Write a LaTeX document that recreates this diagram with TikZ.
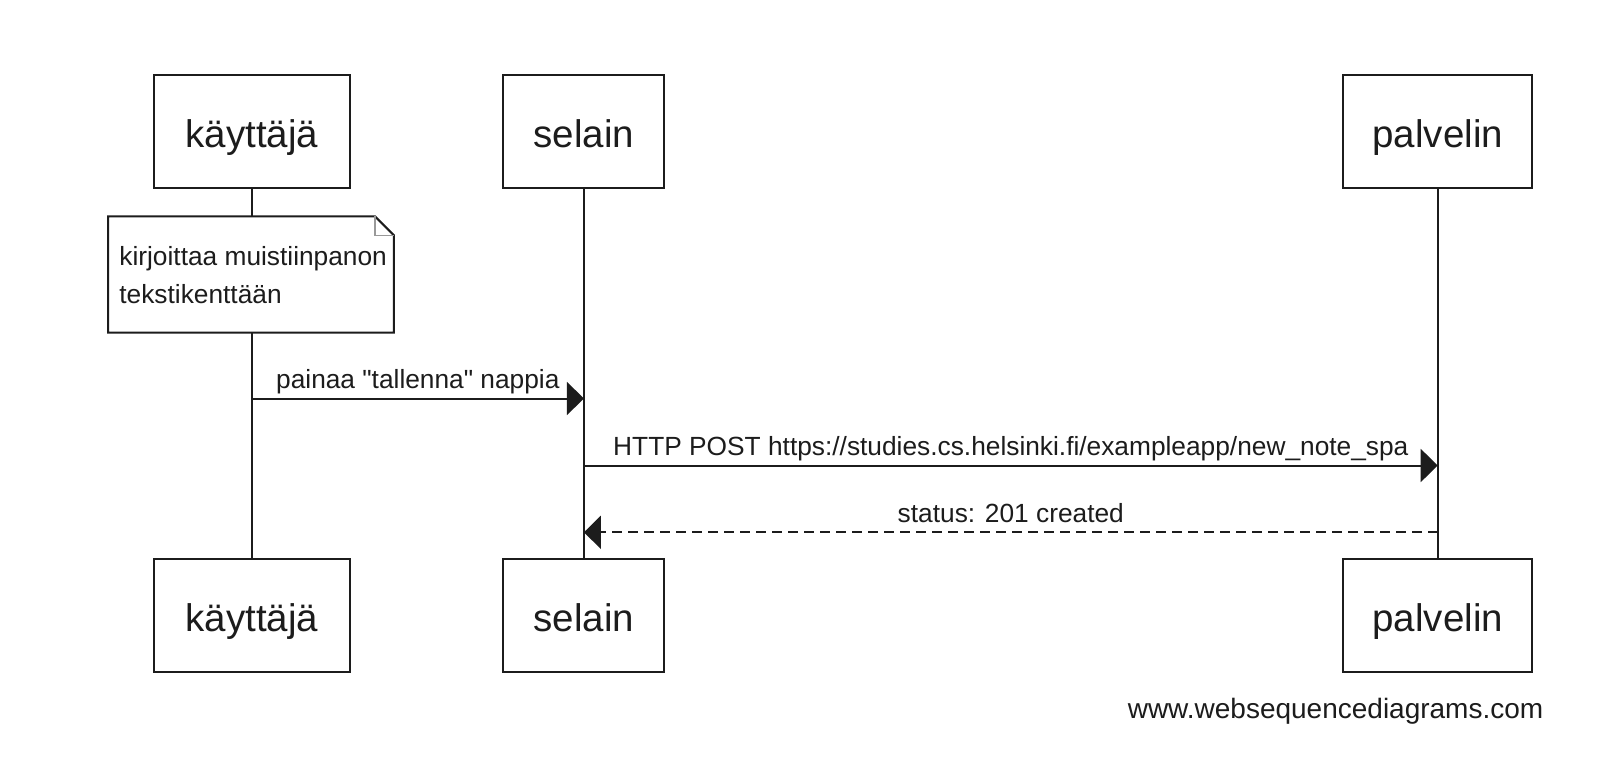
\documentclass[tikz,border=0pt]{standalone}
\usepackage{fontspec}
\setmainfont{Liberation Sans}[Ligatures=TeXOff]
\usetikzlibrary{arrows.meta,calc}
\definecolor{ink}{HTML}{1C1C1C}
\begin{document}
\begin{tikzpicture}[x=1pt,y=-1pt,
  lifeline/.style={draw=ink, line width=2pt},
  actor/.style={draw=ink, line width=2pt, fill=white, minimum height=113.8pt, inner sep=0pt,
    text height=31.6pt, text depth=0pt, font=\fontsize{38.5}{46}\selectfont, text=ink},
  msgfont/.style={font=\fontsize{26.3}{32}\selectfont, text=ink, inner sep=0pt},
  msg/.style={draw=ink, line width=2pt, -{Triangle[length=17pt,width=33pt]}},
  reply/.style={msg, dash pattern=on 10pt off 6pt},
  notebox/.style={draw=ink, line width=2pt, fill=white},
  fold/.style={draw=gray!80, line width=1.6pt},
]
\useasboundingbox (0,0) rectangle (1598,784);
\fill[white] (0,0) rectangle (1598,784);

% actors top
\node[actor, minimum width=196.5pt] (kt) at (251.8,131.5) {käyttäjä};
\node[actor, minimum width=161pt] (st) at (583.9,131.5) {selain};
\node[actor, minimum width=188.7pt] (pt) at (1437.7,131.5) {palvelin};
% actors bottom
\node[actor, minimum width=196.5pt] (kb) at (251.8,615.5) {käyttäjä};
\node[actor, minimum width=161pt] (sb) at (583.9,615.5) {selain};
\node[actor, minimum width=188.7pt] (pb) at (1437.7,615.5) {palvelin};

% lifelines
\draw[lifeline] (kt.south) -- (kb.north);
\draw[lifeline] (st.south) -- (sb.north);
\draw[lifeline] (pt.south) -- (pb.north);

% note
\node[minimum width=285.5pt, minimum height=116pt, inner sep=0pt] (note) at (251,274.5) {};
\draw[notebox] (note.north west) -- ([xshift=-19pt]note.north east) -- ([yshift=-19pt]note.north east)
  -- (note.south east) -- (note.south west) -- cycle;
\draw[fold] ([xshift=-19pt]note.north east) -- ([xshift=-19pt,yshift=-19pt]note.north east) -- ([yshift=-19pt]note.north east);
\node[msgfont, anchor=base west] (n1) at (119.2,265) {kirjoittaa muistiinpanon};
\node[msgfont, anchor=base west] (n2) at (119.2,303) {tekstikenttään};

% messages
\coordinate (y1) at (0,398.5);
\coordinate (y2) at (0,465.5);
\coordinate (y3) at (0,532.3);
\draw[msg] (kt.south |- y1) -- (st.south |- y1)
  node[midway, anchor=base, yshift=10pt, msgfont] (l1) {painaa "tallenna" nappia};
\draw[msg] (st.south |- y2) -- (pt.south |- y2)
  node[midway, anchor=base, yshift=10pt, msgfont] (l2) {HTTP POST https://studies.cs.helsinki.fi/exampleapp/new\_note\_spa};
\draw[reply] (pt.south |- y3) -- (st.south |- y3)
  node[midway, anchor=base, yshift=10pt, msgfont] (l3) {status: 201 created};

% watermark
\node[font=\fontsize{28}{34}\selectfont, text=ink, anchor=base east, inner sep=0pt] (wsd) at (1543.5,718) {www.websequencediagrams.com};
\end{tikzpicture}
\end{document}
